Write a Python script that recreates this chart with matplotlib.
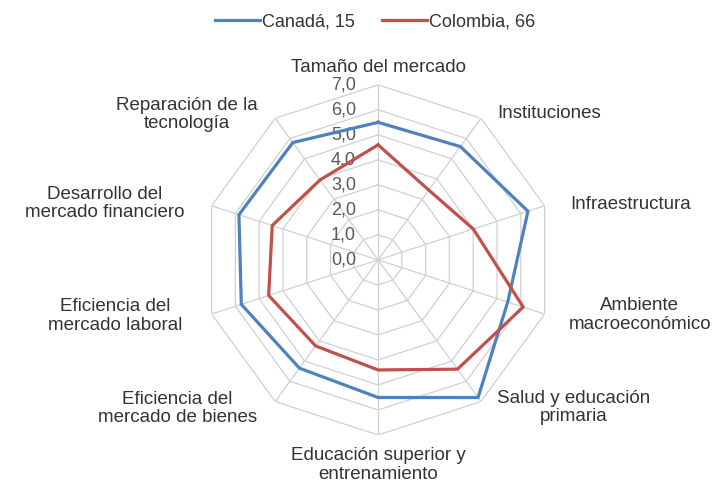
import numpy as np
import matplotlib
matplotlib.use('Agg')
import matplotlib.pyplot as plt

plt.rcParams['font.family'] = ['Liberation Sans', 'DejaVu Sans']

# categorias (desde arriba, sentido horario)
categorias = ['Tamaño del mercado', 'Instituciones', 'Infraestructura',
              'Ambiente\nmacroeconómico', 'Salud y educación\nprimaria',
              'Educación superior y\nentrenamiento', 'Eficiencia del\nmercado de bienes',
              'Eficiencia del\nmercado laboral', 'Desarrollo del\nmercado financiero',
              'Reparación de la\ntecnología']
canada = [5.5, 5.6, 6.3, 5.45, 6.8, 5.5, 5.35, 5.75, 5.85, 5.8]
colombia = [4.6, 3.45, 4.0, 6.1, 5.4, 4.4, 4.25, 4.6, 4.45, 3.95]
niveles = [0, 1, 2, 3, 4, 5, 6, 7]

azul = '#4f81bd'
rojo = '#c0504d'

# desplazamiento (px) y alineacion de cada etiqueta respecto al vertice exterior
pos_etiq = [((0, 17), 'center'), ((16, 5), 'left'), ((26, 1), 'left'),
            ((24, -1), 'left'), ((16, -6), 'left'), ((0, -30), 'center'),
            ((-18, -7), 'right'), ((-29, -2), 'right'), ((-27, 2), 'right'),
            ((-17, 4), 'right')]

n = len(categorias)
ang = np.linspace(0, 2 * np.pi, n, endpoint=False)
ang_c = np.append(ang, ang[0])

fig = plt.figure(figsize=(7.25, 4.83), dpi=100)
ax = fig.add_axes([0.280, 0.0994, 0.483, 0.725], projection='polar')
ax.set_theta_offset(np.pi / 2)
ax.set_theta_direction(-1)
ax.set_ylim(0, 7)
ax.grid(False)
ax.spines['polar'].set_visible(False)
ax.set_xticks([])
ax.set_yticks([])

# rejilla poligonal
for r in niveles[1:]:
    ax.plot(ang_c, [r] * (n + 1), color='#d0d0d0', lw=0.9, zorder=1)
for a in ang:
    ax.plot([a, a], [0, 7], color='#d0d0d0', lw=0.9, zorder=1)

# etiquetas del eje radial
for r in niveles:
    ax.annotate('%d,0' % r, xy=(0, r), xytext=(-22, 0), textcoords='offset pixels',
                ha='right', va='center', fontsize=13, color='#595959')

l1, = ax.plot(ang_c, canada + canada[:1], color=azul, lw=2.3, zorder=3)
l2, = ax.plot(ang_c, colombia + colombia[:1], color=rojo, lw=2.3, zorder=3)

# etiquetas de categoria
for a, txt, (off, ha) in zip(ang, categorias, pos_etiq):
    ax.annotate(txt, xy=(a, 7), xytext=off, textcoords='offset pixels',
                ha=ha, va='center', ma='center', fontsize=13.5, color='#333333',
                linespacing=1.1, annotation_clip=False)

fig.legend([l1, l2], ['Canadá, 15', 'Colombia, 66'], loc='center',
           bbox_to_anchor=(375 / 725, 1 - 22 / 483), ncol=2, frameon=False,
           fontsize=13, handlelength=2.5, handletextpad=0.1, columnspacing=1.5,
           labelcolor='#333333')

fig.savefig('out.png', dpi=100)
